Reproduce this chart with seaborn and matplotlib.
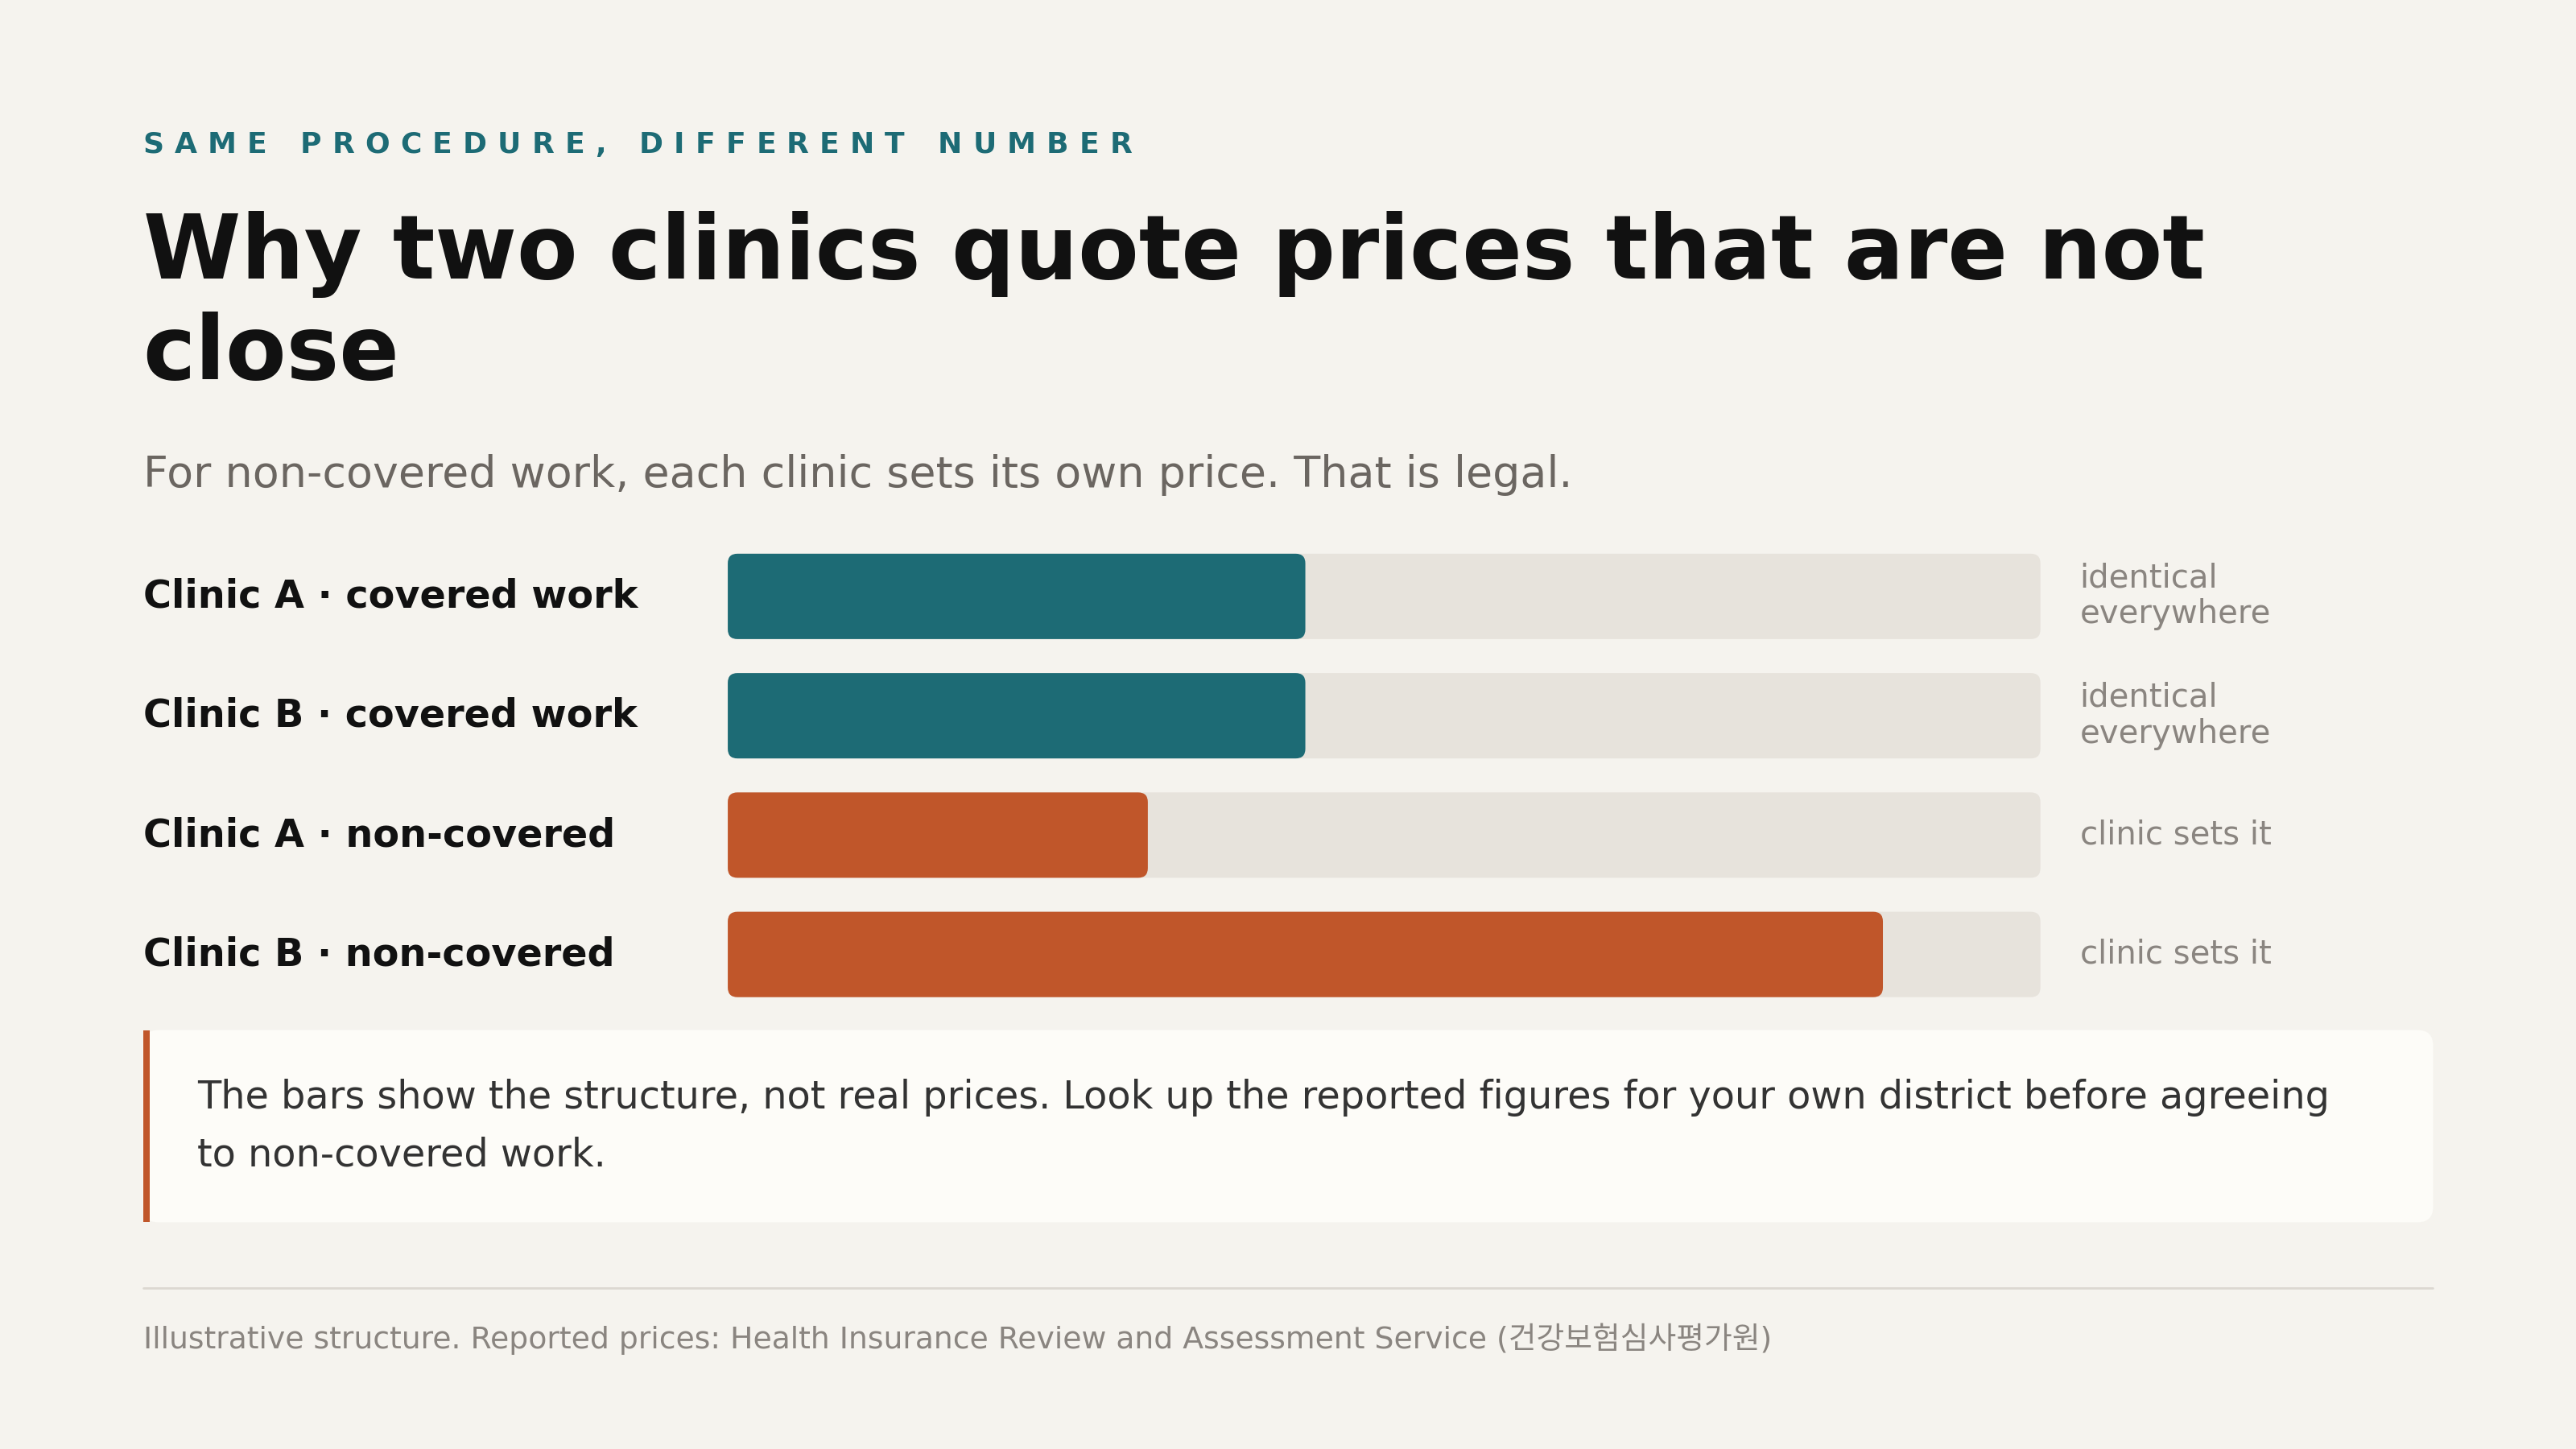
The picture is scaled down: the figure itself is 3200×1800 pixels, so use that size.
import numpy as np
import pandas as pd
import matplotlib.pyplot as plt
import seaborn as sns
from matplotlib.patches import FancyBboxPatch, Rectangle
from matplotlib.lines import Line2D

# data
labels = ["Clinic A · covered work", "Clinic B · covered work",
          "Clinic A · non-covered", "Clinic B · non-covered"]
values = [0.44, 0.44, 0.32, 0.88]
kinds = ["covered", "covered", "non", "non"]
notes = ["identical\neverywhere", "identical\neverywhere", "clinic sets it", "clinic sets it"]

BG = "#f5f3ee"
TEAL = "#1d6b75"
ORANGE = "#c0562a"
TRACK = "#e7e3dc"
GREY = "#8a8580"

sns.set_theme(style="white")
plt.rcParams['font.family'] = ['DejaVu Sans', 'Noto Sans CJK KR']

W, H = 1568, 882  # layout reference units
fig = plt.figure(figsize=(16, 9), dpi=200, facecolor=BG)

def fx(x):
    return x / W

def fy(y):
    return 1 - y / H

# kicker with letter spacing
kicker = "SAME PROCEDURE, DIFFERENT NUMBER"
renderer = fig.canvas.get_renderer()
x = fx(87)
for ch in kicker:
    t = fig.text(x, fy(88), ch, fontsize=13, fontweight="bold", color=TEAL, va="center")
    w = t.get_window_extent(renderer).width / fig.bbox.width if ch != " " else 0.0046
    x += w + 0.0041

fig.text(fx(87), fy(155), "Why two clinics quote prices that are not", fontsize=39.6,
         fontweight="bold", color="#111111", va="center")
fig.text(fx(87), fy(216), "close", fontsize=39.6, fontweight="bold", color="#111111", va="center")
fig.text(fx(87), fy(289), "For non-covered work, each clinic sets its own price. That is legal.",
         fontsize=19.4, color="#6b6661", va="center")

# bar axes
df = pd.DataFrame({"label": labels, "value": values, "kind": kinds, "track": [1.0] * 4})
ax = fig.add_axes([fx(443), 1 - 617.3 / H, (1242 - 443) / W, 290.6 / H])
ax.set_facecolor(BG)
bw = 52 / 72.7
sns.barplot(data=df, y="label", x="track", color=TRACK, width=bw, ax=ax, orient="h",
            saturation=1)
sns.barplot(data=df, y="label", x="value", hue="kind", palette={"covered": TEAL, "non": ORANGE},
            width=bw, ax=ax, orient="h", legend=False, dodge=False, saturation=1)
ax.set_xlim(0, 1)
ax.set_ylim(3.5, -0.5)
ax.axis("off")

# round the bars
aspect = 0.081 / 0.0074
for p in list(ax.patches):
    x0, y0 = p.get_x(), p.get_y()
    w, h = p.get_width(), p.get_height()
    if w <= 0:
        continue
    fb = FancyBboxPatch((x0, y0), w, h, boxstyle="round,pad=0,rounding_size=0.0074",
                        mutation_aspect=aspect, facecolor=p.get_facecolor(),
                        edgecolor="none", zorder=p.get_zorder())
    p.remove()
    ax.add_patch(fb)

for i, (lab, note) in enumerate(zip(labels, notes)):
    yc = fy(363 + i * 72.7)
    fig.text(fx(87), yc, lab, fontsize=17.2, fontweight="bold", color="#111111", va="center")
    fig.text(fx(1266), yc, note, fontsize=14.5, color=GREY, va="center", linespacing=1.15)

# note box
fig.patches.append(FancyBboxPatch((fx(87), fy(744)), fx(1481 - 87), (744 - 627) / H,
                                  boxstyle="round,pad=0,rounding_size=0.006",
                                  transform=fig.transFigure, facecolor="#fdfcf8",
                                  edgecolor="none", mutation_aspect=16 / 9))
fig.patches.append(Rectangle((fx(87), fy(744)), fx(4), (744 - 627) / H,
                             transform=fig.transFigure, facecolor=ORANGE, edgecolor="none"))
fig.text(fx(120), fy(668), "The bars show the structure, not real prices. Look up the reported figures for your own district before agreeing",
         fontsize=17.2, color="#333333", va="center")
fig.text(fx(120), fy(703), "to non-covered work.", fontsize=17.2, color="#333333", va="center")

fig.lines.append(Line2D([fx(87), fx(1481)], [fy(784), fy(784)], transform=fig.transFigure,
                        color="#dcd8d1", linewidth=1))
fig.text(fx(87), fy(815), "Illustrative structure. Reported prices: Health Insurance Review and Assessment Service (건강보험심사평가원)",
         fontsize=13.6, color=GREY, va="center")

fig.savefig("out.png", dpi=200, facecolor=BG)
